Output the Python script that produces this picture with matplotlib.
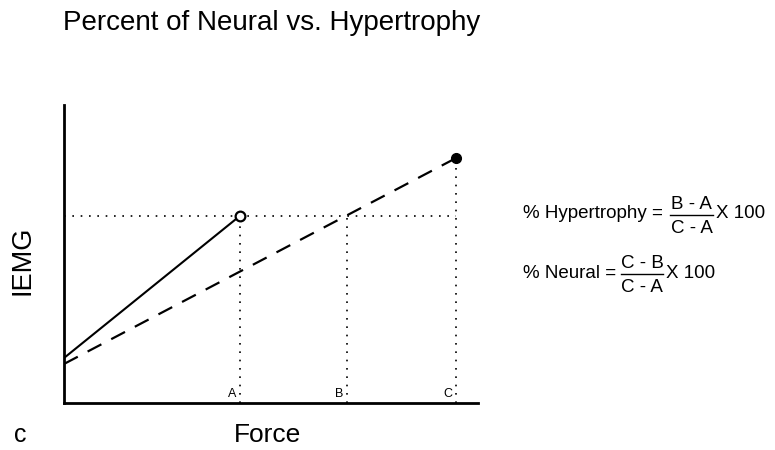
import matplotlib.pyplot as plt
from matplotlib.lines import Line2D

plt.rcParams['font.family'] = ['Liberation Sans', 'DejaVu Sans']

# points (axis units 0..10)
point_labels = ['A', 'B', 'C']
point_x = [4.25, 6.84, 9.47]
point_y = [6.28, 6.28, 8.22]
neural_start = 1.51      # solid line intercept
hyper_start = 1.31       # dashed line intercept

W, H = 775, 450
fig = plt.figure(figsize=(7.75, 4.5), dpi=100)


def px(x, y):
    # pixel position -> figure fraction
    return x / W, 1 - y / H


ax = fig.add_axes([64 / W, 1 - 403 / H, 414 / W, 298 / H])
ax.set_xlim(0, 10)
ax.set_ylim(0, 10)

# solid line to A (open circle)
ax.plot([0, point_x[0]], [neural_start, point_y[0]], color='black', lw=1.5, zorder=3)
ax.plot(point_x[0], point_y[0], 'o', ms=7, mfc='white', mec='black', mew=1.6, zorder=4)

# dashed line to C (filled circle)
ax.plot([0, point_x[2]], [hyper_start, point_y[2]], color='black', lw=1.6,
        linestyle=(0, (7, 5)), zorder=3)
ax.plot(point_x[2], point_y[2], 'o', ms=7, color='black', zorder=4)

# dotted reference lines
ax.plot([0, point_x[2]], [point_y[0], point_y[0]], color='black', lw=1.2,
        linestyle=(0, (1, 4)))
for x, y, lab in zip(point_x, point_y, point_labels):
    ax.plot([x, x], [0, y], color='black', lw=1.2, linestyle=(0, (1, 4)))
    ax.text(x - 0.08, 0.3, lab, ha='right', va='center', fontsize=9)

for s in ['top', 'right']:
    ax.spines[s].set_visible(False)
for s in ['left', 'bottom']:
    ax.spines[s].set_linewidth(2)
ax.set_xticks([])
ax.set_yticks([])

fig.text(*px(63, 23), 'Percent of Neural vs. Hypertrophy', fontsize=20, va='center')
fig.text(*px(23, 260), 'IEMG', fontsize=19.5, rotation=90, ha='center', va='center')
fig.text(*px(267, 442), 'Force', fontsize=19, ha='center', va='baseline')
fig.text(*px(20, 442), 'c', fontsize=18, ha='center', va='baseline')


def formula(label, num, den, y, frac_x0, frac_x1):
    fs = 13.5
    cx = (frac_x0 + frac_x1) / 2
    fig.text(*px(523, y), label, fontsize=fs, va='center')
    fig.text(*px(cx, y - 9), num, fontsize=fs, ha='center', va='center')
    fig.text(*px(cx, y + 14), den, fontsize=fs, ha='center', va='center')
    x0, y0 = px(frac_x0, y + 1)
    x1, _ = px(frac_x1, y + 1)
    fig.add_artist(Line2D([x0, x1], [y0, y0], color='black', lw=1.0,
                          transform=fig.transFigure))
    fig.text(*px(frac_x1 + 3, y), 'X 100', fontsize=fs, va='center')


formula('% Hypertrophy =', 'B - A', 'C - A', 214, 670, 713)
formula('% Neural =', 'C - B', 'C - A', 273, 621, 663)

fig.savefig('out.png', dpi=100)
